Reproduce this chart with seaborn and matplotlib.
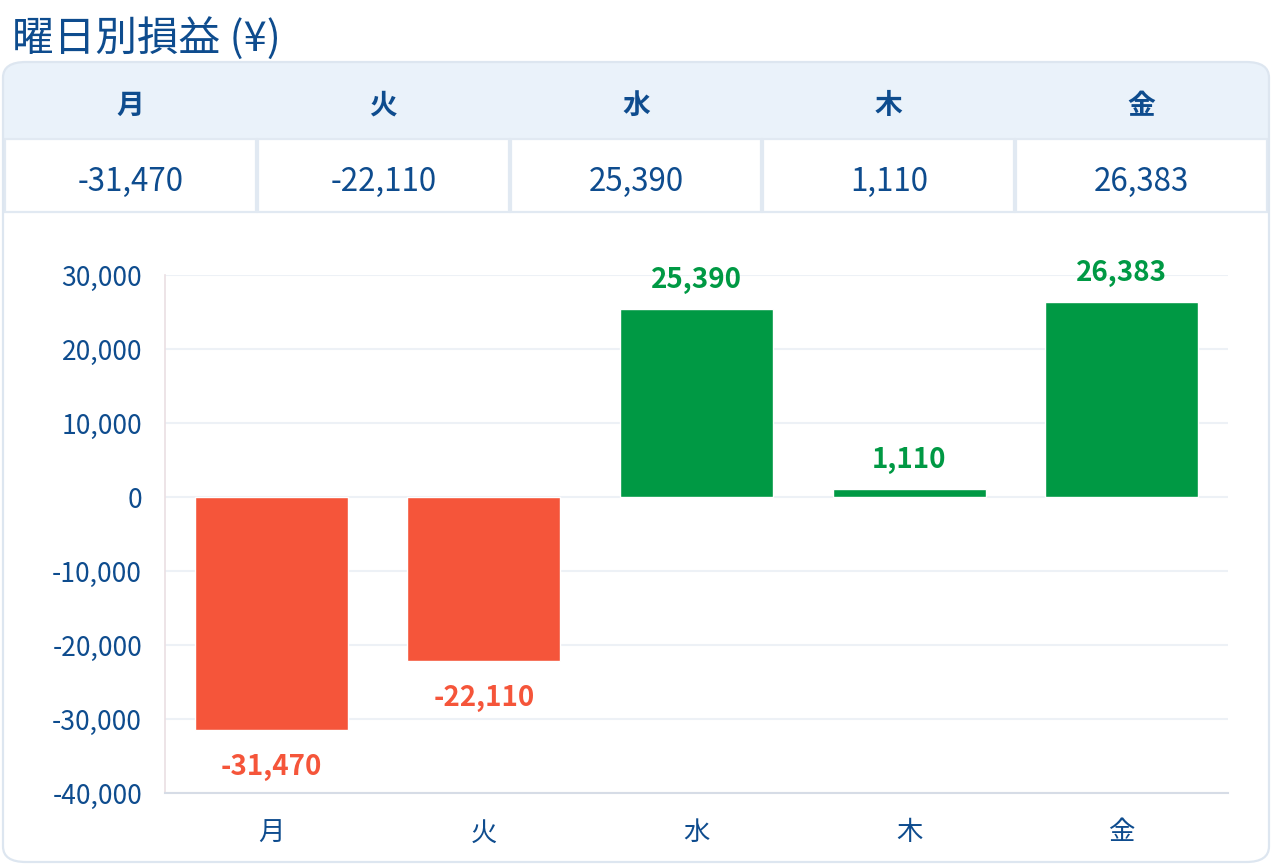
import matplotlib
matplotlib.use('Agg')
import matplotlib.pyplot as plt
import seaborn as sns
from matplotlib.patches import FancyBboxPatch, Rectangle
from matplotlib.ticker import FuncFormatter, MultipleLocator

# data
days = ['月', '火', '水', '木', '金']
pnl = [-31470, -22110, 25390, 1110, 26383]
title = '曜日別損益 (¥)'

RED = '#f5553a'
GREEN = '#009944'
NAVY = '#0e4c8e'
colors = [GREEN if v >= 0 else RED for v in pnl]

sns.set_theme(style='white')
plt.rcParams['font.family'] = ['Noto Sans CJK JP', 'DejaVu Sans']

W, H = 1272, 866
fig = plt.figure(figsize=(W / 100, H / 100), dpi=100)


def fx(px):
    return px / W


def fy(py):
    return 1 - py / H


# title
fig.text(fx(12), fy(38), title, fontsize=30, color=NAVY, va='center', ha='left')

# card background and header band
card = FancyBboxPatch((fx(3), fy(862)), fx(1266), (862 - 62) / H,
                      boxstyle='round,pad=0,rounding_size=0.018',
                      transform=fig.transFigure, facecolor='white',
                      edgecolor='none', zorder=0)
fig.patches.append(card)
band = FancyBboxPatch((fx(3), fy(138)), fx(1266), (138 - 62) / H,
                      boxstyle='round,pad=0,rounding_size=0.018',
                      transform=fig.transFigure, facecolor='#eaf2fa',
                      edgecolor='none', zorder=1)
fig.patches.append(band)
fig.patches.append(Rectangle((fx(3), fy(138)), fx(1266), 40 / H,
                             transform=fig.transFigure, facecolor='#eaf2fa',
                             edgecolor='none', zorder=1))
border = FancyBboxPatch((fx(3), fy(862)), fx(1266), (862 - 62) / H,
                        boxstyle='round,pad=0,rounding_size=0.018',
                        transform=fig.transFigure, facecolor='none',
                        edgecolor='#dde6f0', linewidth=1.6, zorder=5)
fig.patches.append(border)

# table: header + values
col_w = (1268 - 4) / len(days)
for i, (d, v) in enumerate(zip(days, pnl)):
    x0 = 4 + i * col_w
    cx = x0 + col_w / 2
    fig.text(fx(cx), fy(106), d, fontsize=20, fontweight='bold', color=NAVY,
             ha='center', va='center', zorder=6)
    fig.patches.append(Rectangle((fx(x0 + 1), fy(212)), fx(col_w - 2), (212 - 139) / H,
                                 transform=fig.transFigure, facecolor='white',
                                 edgecolor='#e1e9f2', linewidth=1.6, zorder=2))
    fig.text(fx(cx), fy(182), f'{v:,}', fontsize=22.5, color=NAVY,
             ha='center', va='center', zorder=6)

# bar chart
ax = fig.add_axes([fx(165), fy(793), fx(1228 - 165), (793 - 275) / H])
ax.set_zorder(10)
ax.set_facecolor('none')
sns.barplot(x=days, y=pnl, hue=days, palette=colors, width=0.72,
            legend=False, ax=ax, saturation=1, zorder=3)

ax.set_ylim(-40000, 30000)
ax.set_xlim(-0.5, len(days) - 0.5)
ax.yaxis.set_major_locator(MultipleLocator(10000))
ax.yaxis.set_major_formatter(FuncFormatter(lambda v, p: f'{int(v):,}'))
ax.grid(axis='y', color='#edf1f6', linewidth=1.5, zorder=0)
ax.set_axisbelow(True)
ax.tick_params(axis='y', length=11.5, color='#edf1f6', width=1.5, labelsize=19,
               labelcolor=NAVY, pad=5)
ax.tick_params(axis='x', length=0, labelsize=19, labelcolor=NAVY, pad=19)
for s in ['top', 'right']:
    ax.spines[s].set_visible(False)
ax.spines['left'].set_color('#eadfe3')
ax.spines['left'].set_linewidth(1.2)
ax.spines['bottom'].set_color('#d6dce6')
ax.spines['bottom'].set_linewidth(1.5)
ax.set_xlabel('')
ax.set_ylabel('')

for i, v in enumerate(pnl):
    off = 21 if v >= 0 else -27
    ax.annotate(f'{v:,}', (i, v), xytext=(0, off), textcoords='offset points',
                ha='center', va='center', fontsize=20, fontweight='bold',
                color=colors[i], clip_on=False, zorder=6)

fig.savefig('out.png', dpi=100)
